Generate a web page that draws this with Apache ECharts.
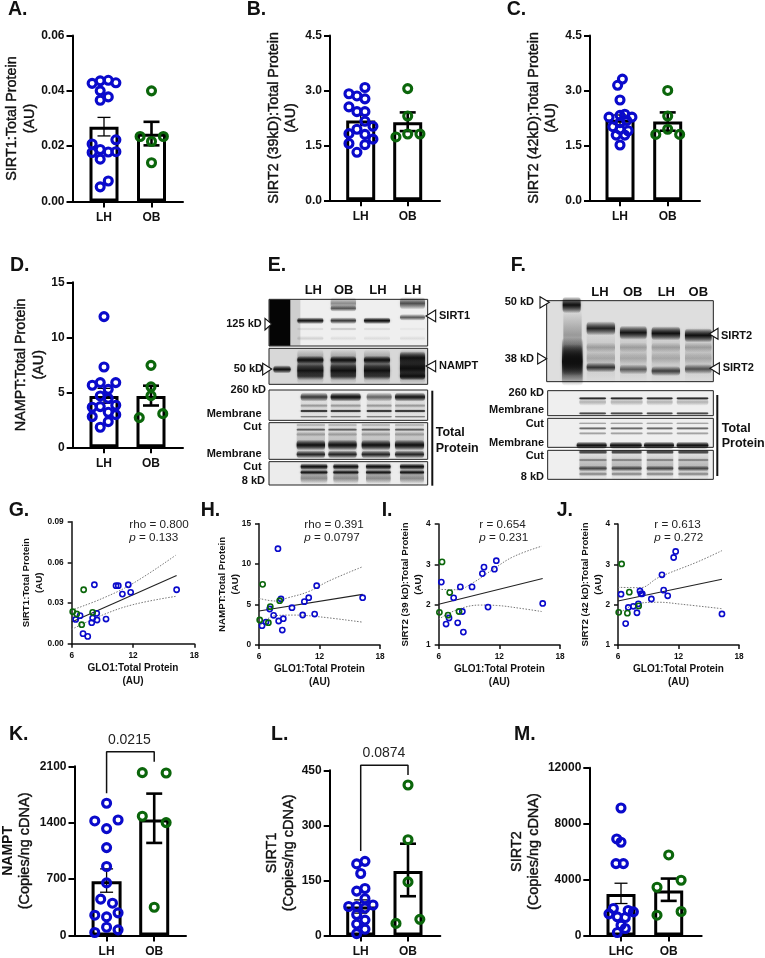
<!DOCTYPE html>
<html><head><meta charset="utf-8">
<style>html,body{margin:0;padding:0;background:#fff}#c{width:765px;height:958px}</style>
<script src="https://cdn.jsdelivr.net/npm/echarts@6/dist/echarts.min.js"></script></head>
<body><div id="c"></div>
<script>
// ---------- Panel A
const aLH=[.0427,.0436,.0438,.0429,.0400,.0378,.0366,.0223,.0208,.0188,.0177,.0179,.0180,.0153,.0074,.0053];
const aLHx=[.75,.92,1.09,1.25,.92,1.09,.92,1.25,.75,.92,.75,1.09,1.25,.92,1.09,.92];
const aOB=[.0235,.0400,.0235,.0217,.0140];
const aOBx=[1.76,2,2.25,2,2];
// ---------- Panel B
const bLH=[3.08,2.91,2.85,2.77,2.55,2.42,2.42,2.16,2.02,1.94,1.82,1.80,1.67,1.55,1.52,1.31];
const bLHx=[1.09,.75,.92,1.09,.75,.92,1.09,1.09,1.26,.92,.75,1.09,1.26,.75,1.09,.92];
const bOB=[3.05,2.30,1.73,1.81,1.81];
const bOBx=[2,2,1.75,2,2.26];
// ---------- Panel C
const cLH=[3.31,3.14,2.74,2.35,2.32,2.27,2.27,2.18,2.12,2.01,1.94,1.90,1.78,1.78,1.51];
const cLHx=[1.05,.95,1,1.1,1,.77,1.25,1.14,1,.85,1,1.17,.92,1.1,1];
const cOB=[3.0,2.30,1.8,1.94,1.8];
const cOBx=[2,2,1.75,2,2.25];
// ---------- Panel D
const dLH=[11.88,7.3,5.64,5.88,5.88,5.27,4.67,4.45,3.64,3.70,3.82,3.18,2.79,2.97,2.33,1.82];
const dLHx=[1,1,.75,.92,1.25,1.09,.92,1.09,.75,.92,1.25,1.09,.75,1.25,1.09,.92];
const dOB=[7.45,5.5,4.7,2.7,3.06];
const dOBx=[2,2,2,1.75,2.25];
// ---------- Panel K
const kLH=[1641,1422,1434,1327,1091,856,653,451,401,252,281,231,103,70,37];
const kLHx=[1,.752,1.241,1,1,1,1,.876,1.124,.752,1.241,1,1,1.241,.752];
const kOB=[2021,2017,1480,1401,351];
const kOBx=[1.75,2.25,1.75,2.25,2];
// ---------- Panel L
const lLH=[202,195,169,128,121,100,79,79,75,83,57,42,31,17,5];
const lLHx=[1.09,.915,1,1.09,.915,1.09,.746,.915,1.09,1.26,.915,1.09,.915,1.09,.915];
const lOB=[410,261,146,33,44];
const lOBx=[2,2,2,1.746,2.25];
// ---------- Panel M
const mLH=[9119,6905,6667,5143,5143,1929,1690,1548,1786,1333,1286,738,500,214];
const mLHx=[1,.91,1,.895,1.05,.84,1.26,.748,1.15,.923,1.09,1,1.09,.923];
const mOB=[5762,3952,3452,1452,1714];
const mOBx=[2,2.26,1.755,1.755,2.26];
// ---------- Bars: means and SEM limits [LH, OB]
const aMean=[.027,.0245], aLow=[.0237,.0203], aHigh=[.0304,.0288];
const bMean=[2.18,2.13], bLow=[2.04,1.89], bHigh=[2.32,2.40];
const cMean=[2.2,2.15], cLow=[2.07,1.9], cHigh=[2.33,2.40];
const dMean=[4.67,4.67], dLow=[4.0,3.8], dHigh=[5.36,5.6];
const kMean=[674,1439], kLow=[537,1149], kHigh=[827,1761];
const lMean=[79,176], lLow=[61,107], lHigh=[97,250];
const mMean=[2976,3214], mLow=[2286,2476], mHigh=[3738,4071];
const groupsAB=['LH','OB'], groupsM=['LHC','OB'];
// ---------- Correlations G-J  (GLO1 on x)
const gBlueX=[8.22,10.34,10.56,11.54,10.96,11.77,16.27,6.39,6.82,8.05,7.96,8.45,8.48,9.36,7.11,7.57];
const gBlueY=[.0435,.0428,.0428,.0435,.0366,.0379,.0398,.0179,.0207,.0189,.0155,.0224,.0175,.0182,.0074,.0054];
const gGreenX=[7.17,6.1,6.49,8.05,6.98];
const gGreenY=[.0398,.0236,.0219,.0231,.0140];
const gFitX=[6,16.27], gFitY=[.016,.0504];
const gCIx=[6,9,12,16.17], gUp=[.0248,.0334,.0445,.0652], gLo=[.0106,.0211,.0288,.0349];
const hBlueX=[7.88,11.72,10.93,10.5,16.28,8.18,9.27,7.06,7.45,10.33,11.52,8.41,7.95,6.69,6.3,8.31];
const hBlueY=[11.91,7.33,5.85,5.36,5.85,5.69,4.61,4.45,3.67,3.71,3.83,3.25,2.97,2.84,2.39,1.85];
const hGreenX=[6.36,7.12,8.05,6.07,6.93];
const hGreenY=[7.5,4.74,5.48,3.09,2.76];
const hFitX=[6,16.28], hFitY=[4.2,6.26];
const hUpX=[6,7.6,8.9,10.9,12.9,16.28], hUp=[5.77,5.44,5.85,6.6,7.9,9.68];
const hLoX=[6,7.6,9.5,11.88,16.18], hLo=[2.27,3.63,3.7,3.5,2.84];
const iBlueX=[11.7,10.48,11.51,10.32,6.26,8.14,9.3,7.48,16.29,10.88,8.34,7.02,6.73,7.88,8.44];
const iBlueY=[3.09,2.93,2.88,2.77,2.56,2.44,2.44,2.17,2.03,1.94,1.83,1.67,1.52,1.55,1.32];
const iGreenX=[6.33,7.09,6.07,6.92,8.01];
const iGreenY=[3.06,2.30,1.81,1.74,1.83];
const iFitX=[6,16.29], iFitY=[2.01,2.65];
const iCIx=[6,7.78,9.43,11.4,13.39,16.19], iUp=[2.38,2.37,2.55,2.88,3.19,3.45];
const iLoX=[6,7.78,10.09,11.74,14.05,16.19], iLo=[1.64,1.87,1.99,1.98,1.91,1.83];
const jBlueX=[11.72,11.52,10.36,8.18,10.53,8.41,8.28,6.3,10.93,9.31,8.02,7.52,7.02,7.88,16.31,6.76];
const jBlueY=[3.32,3.17,2.74,2.34,2.36,2.27,2.27,2.26,2.22,2.14,2.02,1.96,1.93,1.80,1.77,1.53];
const jGreenX=[6.36,7.12,8.05,6.07,6.93];
const jGreenY=[3.01,2.31,1.97,1.81,1.79];
const jFitX=[6,16.31], jFitY=[2.09,2.63];
const jCIx=[6,8.18,10,13.97,16.31], jUp=[2.43,2.42,2.67,3.07,3.34];
const jLoX=[6,8.02,10,12.31,16.31], jLo=[1.76,2.03,2.06,2.01,1.9];

const FONT='Liberation Sans', BLUE='#0a0acb', GREEN='#0b660b', BLACK='#000';
const zip=(x,y)=>y.map((v,i)=>[x[i],v]);
const grid=[],xAxis=[],yAxis=[],series=[],graphic=[];

function addBarPanel(p){
  const i=grid.length;
  grid.push({left:p.x0,top:p.yTop,width:p.x1-p.x0,height:p.yBot-p.yTop,containLabel:false});
  const unit=p.xOB-p.xLH;
  const labels=p.groups;
  xAxis.push({gridIndex:i,type:'value',min:1-(p.xLH-p.x0)/unit,max:2+(p.x1-p.xOB)/unit,
    axisLine:{onZero:false,lineStyle:{color:BLACK,width:2}},splitLine:{show:false},
    axisTick:{show:true,customValues:[1,2],length:6,lineStyle:{color:BLACK,width:2}},
    axisLabel:{show:true,customValues:[1,2],margin:10.5,fontFamily:FONT,fontWeight:'bold',fontSize:12,color:'#111',
      formatter:v=>labels[Math.round(v)-1]}});
  yAxis.push({gridIndex:i,type:'value',min:0,max:p.max,interval:p.interval,
    axisLine:{show:true,onZero:false,lineStyle:{color:BLACK,width:2}},splitLine:{show:false},
    axisTick:{show:true,length:6,lineStyle:{color:BLACK,width:2}},
    axisLabel:{margin:8,fontFamily:FONT,fontWeight:'bold',fontSize:12,color:'#111',showMinLabel:true,showMaxLabel:true,
      formatter:v=>v.toFixed(p.dec)},
    name:p.name,nameLocation:'middle',nameGap:p.gap,nameRotate:90,nameMoveOverlap:false,
    nameTextStyle:{rich:p.rich||{a:{fontFamily:FONT,fontSize:14.4,lineHeight:17.5,color:'#111',textBorderColor:'#111',textBorderWidth:.4}}}});
  series.push({type:'bar',xAxisIndex:i,yAxisIndex:i,barWidth:p.barW||29,z:2,silent:true,
    data:p.mean.map((v,k)=>[k+1,v]),itemStyle:{color:'#fff',borderColor:BLACK,borderWidth:3}});
  series.push({type:'custom',xAxisIndex:i,yAxisIndex:i,z:3,silent:true,
    data:p.mean.map((v,k)=>[k+1,p.low[k],p.high[k]]),encode:{x:0,y:[1,2]},
    renderItem:(params,api)=>{
      const x=api.value(0),lo=api.coord([x,api.value(1)]),hi=api.coord([x,api.value(2)]);
      const w=x===1?1.3:2.6, cap=x===1?6.5:8;
      const ln=(a,b,c,d)=>({type:'line',shape:{x1:a,y1:b,x2:c,y2:d},style:{stroke:BLACK,lineWidth:w}});
      return {type:'group',children:[ln(lo[0],lo[1],hi[0],hi[1]),ln(lo[0]-cap,lo[1],lo[0]+cap,lo[1]),ln(hi[0]-cap,hi[1],hi[0]+cap,hi[1])]};
    }});
  const sc=(d,c)=>({type:'scatter',xAxisIndex:i,yAxisIndex:i,z:4,silent:true,symbolSize:8,clip:false,data:d,
    itemStyle:{color:'rgba(0,0,0,0)',borderColor:c,borderWidth:3.1,opacity:1}});
  series.push(sc(zip(p.lhx,p.lh),BLUE),sc(zip(p.obx,p.ob),GREEN));
  if(p.bracket){
    series.push({type:'line',xAxisIndex:i,yAxisIndex:i,z:5,silent:true,clip:false,showSymbol:false,
      data:[[1,p.bracket[0]],[1,p.bracket[1]],[2,p.bracket[1]],[2,p.bracket[2]]],
      lineStyle:{color:'#111',width:1.5}});
    graphic.push(txt(p.bracket[3],p.bracket[4],p.bracket[5],{fontSize:14,fontWeight:'normal',align:'center',fill:'#222'}));
  }
}
function addCorr(p){
  const i=grid.length;
  grid.push({left:p.x0,top:p.yTop,width:p.x1-p.x0,height:p.yBot-p.yTop});
  const axisCommon={axisLine:{show:true,onZero:false,lineStyle:{color:'#111',width:1.5}},splitLine:{show:false},
    axisTick:{show:true,length:4,lineStyle:{color:'#111',width:1.5}}};
  const lab={fontFamily:FONT,fontWeight:'bold',fontSize:8.3,color:'#111',margin:8,showMinLabel:true,showMaxLabel:true};
  xAxis.push(Object.assign({gridIndex:i,type:'value',min:6,max:18,interval:6,axisLabel:lab,
    name:'GLO1:Total Protein\n(AU)',nameLocation:'middle',nameGap:18,nameMoveOverlap:false,
    nameTextStyle:{fontFamily:FONT,fontWeight:'bold',fontSize:10,lineHeight:13,color:'#111'}},axisCommon));
  yAxis.push(Object.assign({gridIndex:i,type:'value',min:p.min,max:p.max,interval:p.interval,
    axisLabel:Object.assign({},lab,{formatter:v=>v.toFixed(p.dec)}),
    name:p.name,nameLocation:'middle',nameGap:p.gap,nameRotate:90,nameMoveOverlap:false,
    nameTextStyle:{fontFamily:FONT,fontWeight:'bold',fontSize:9.7,lineHeight:13,color:'#111'}},axisCommon));
  const ln=(d,o)=>Object.assign({type:'line',xAxisIndex:i,yAxisIndex:i,z:3,silent:true,showSymbol:false,data:d},o);
  const dotted={smooth:.4,lineStyle:{color:'#777',width:1,type:[1.5,1.5]}};
  series.push(ln(p.up,dotted),ln(p.lo,dotted),ln(p.fit,{lineStyle:{color:'#222',width:1.1}}));
  const sc=(d,c)=>({type:'scatter',xAxisIndex:i,yAxisIndex:i,z:4,silent:true,symbolSize:5.2,clip:false,data:d,
    itemStyle:{color:'rgba(0,0,0,0)',borderColor:c,borderWidth:1.6,opacity:1}});
  series.push(sc(p.blue,BLUE),sc(p.green,GREEN));
  graphic.push(txt(p.tx,524.3,p.stat,{fontSize:11.7,fontWeight:'normal',fill:'#222'}));
  graphic.push({type:'text',x:p.tx,y:538,silent:true,style:{text:'{i|p} = '+p.p,fontFamily:FONT,fontSize:11.7,fill:'#222',verticalAlign:'middle',
    rich:{i:{fontStyle:'italic',fontFamily:FONT,fontSize:11.7,fill:'#222'}}}});
}
function txt(x,y,s,o){
  return {type:'text',x,y,silent:true,style:Object.assign({text:s,fontFamily:FONT,fontWeight:'bold',fontSize:11,fill:'#111',align:'left',verticalAlign:'middle'},o||{})};
}
const au=s=>`{a|${s}}\n{a|(AU)}`;
const richK={b:{fontFamily:FONT,fontWeight:'bold',fontSize:14,lineHeight:17,color:'#111'},r:{fontFamily:FONT,fontSize:14.5,lineHeight:17,color:'#111',textBorderColor:'#111',textBorderWidth:.4}};
const copies=s=>`{b|${s}}\n{r|(Copies/ng cDNA)}`;
const copiesReg=s=>`{r|${s}}\n{r|(Copies/ng cDNA)}`;

addBarPanel({x0:72.5,x1:183,xLH:104,xOB:151.5,yTop:35.5,yBot:201.5,max:.06,interval:.02,dec:2,gap:34,name:au('SIRT1:Total Protein'),groups:groupsAB,lh:aLH,lhx:aLHx,ob:aOB,obx:aOBx,mean:aMean,low:aLow,high:aHigh});
addBarPanel({x0:330,x1:440,xLH:360.7,xOB:407.7,yTop:35.5,yBot:200.3,max:4.5,interval:1.5,dec:1,gap:30,name:au('SIRT2 (39kD):Total Protein'),groups:groupsAB,lh:bLH,lhx:bLHx,ob:bOB,obx:bOBx,mean:bMean,low:bLow,high:bHigh});
addBarPanel({x0:590,x1:700,xLH:620,xOB:667.7,yTop:35.5,yBot:200.3,max:4.5,interval:1.5,dec:1,gap:30,name:au('SIRT2 (42kD):Total Protein'),groups:groupsAB,lh:cLH,lhx:cLHx,ob:cOB,obx:cOBx,mean:cMean,low:cLow,high:cHigh});
addBarPanel({x0:72.7,x1:183,xLH:104,xOB:151,yTop:282.3,yBot:447.3,max:15,interval:5,dec:0,gap:25,name:au('NAMPT:Total Protein'),groups:groupsAB,lh:dLH,lhx:dLHx,ob:dOB,obx:dOBx,mean:dMean,low:dLow,high:dHigh});
addBarPanel({x0:72.7,x1:186,xLH:105.3,xOB:153.7,yTop:766.3,yBot:935.7,max:2100,interval:700,dec:0,gap:41,barW:30,name:copies('NAMPT'),rich:richK,groups:groupsAB,lh:kLH,lhx:kLHx,ob:kOB,obx:kOBx,mean:kMean,low:kLow,high:kHigh,bracket:[1765,2282,2158,129.3,739.7,'0.0215']});
addBarPanel({x0:329.7,x1:440.3,xLH:360.7,xOB:408,yTop:770.3,yBot:935.7,max:450,interval:150,dec:0,gap:32,name:copiesReg('SIRT1'),rich:richK,groups:groupsAB,lh:lLH,lhx:lLHx,ob:lOB,obx:lOBx,mean:lMean,low:lLow,high:lHigh,bracket:[230,464,437,384,753.3,'0.0874']});
addBarPanel({x0:589.3,x1:701.7,xLH:621,xOB:668.7,yTop:767.7,yBot:935.7,max:12000,interval:4000,dec:0,gap:47,name:copiesReg('SIRT2'),rich:richK,groups:groupsM,lh:mLH,lhx:mLHx,ob:mOB,obx:mOBx,mean:mMean,low:mLow,high:mHigh});

addCorr({x0:71.7,x1:194.3,yTop:521.7,yBot:643.7,min:0,max:.09,interval:.03,dec:2,gap:25.5,name:'SIRT1:Total Protein\n(AU)',blue:zip(gBlueX,gBlueY),green:zip(gGreenX,gGreenY),fit:zip(gFitX,gFitY),up:zip(gCIx,gUp),lo:zip(gCIx,gLo),tx:129.3,stat:'rho = 0.800',p:'0.133'});
addCorr({x0:259,x1:380,yTop:523.7,yBot:645,min:0,max:15,interval:5,dec:0,gap:17,name:'NAMPT:Total Protein\n(AU)',blue:zip(hBlueX,hBlueY),green:zip(hGreenX,hGreenY),fit:zip(hFitX,hFitY),up:zip(hUpX,hUp),lo:zip(hLoX,hLo),tx:304.3,stat:'rho = 0.391',p:'0.0797'});
addCorr({x0:438.7,x1:560,yTop:524,yBot:645,min:1,max:4,interval:1,dec:0,gap:14,name:'SIRT2 (39 kD):Total Protein\n(AU)',blue:zip(iBlueX,iBlueY),green:zip(iGreenX,iGreenY),fit:zip(iFitX,iFitY),up:zip(iCIx,iUp),lo:zip(iLoX,iLo),tx:479.3,stat:'r = 0.654',p:'0.231'});
addCorr({x0:618,x1:739,yTop:524,yBot:645,min:1,max:4,interval:1,dec:0,gap:13,name:'SIRT2 (42 kD):Total Protein\n(AU)',blue:zip(jBlueX,jBlueY),green:zip(jGreenX,jGreenY),fit:zip(jFitX,jFitY),up:zip(jCIx,jUp),lo:zip(jLoX,jLo),tx:654.3,stat:'r = 0.613',p:'0.272'});

// ---------- Panel letters
[['A.',8,10],['B.',246.7,10],['C.',506.7,10],['D.',10,265.7],['E.',267.7,265.7],['F.',510.7,265.7],
 ['G.',8.7,510.7],['H.',200.7,510.7],['I.',381.7,510.7],['J.',556.7,510.7],['K.',9,734.3],['L.',271,734.3],['M.',514,734.3]]
 .forEach(([s,x,y])=>graphic.push(txt(x,y,s,{fontSize:19.5,fill:'#111'})));

// ---------- Western blots (illustration, not data)
function box(ox,oy,x1,y1,x2,y2,fill){return {type:'rect',silent:true,shape:{x:ox+x1/3,y:oy+y1/3,width:(x2-x1)/3,height:(y2-y1)/3},style:{fill:fill||'#f0f0f0',stroke:'#222',lineWidth:1}};}
function band(ox,oy,x1,x2,yc,h,a){
  const c=v=>`rgba(15,15,15,${v})`;
  const H=h*1.25;
  return {type:'rect',silent:true,shape:{x:ox+x1/3,y:oy+(yc-H)/3,width:(x2-x1)/3,height:2*H/3,r:4},
    style:{shadowBlur:2.5,shadowColor:c(a*.45),
      fill:{type:'linear',x:0,y:0,x2:0,y2:1,colorStops:[{offset:0,color:c(0)},{offset:.22,color:c(a*.45)},{offset:.5,color:c(a)},{offset:.78,color:c(a*.45)},{offset:1,color:c(0)}]}}};
}
function tri(ox,oy,pts){return {type:'polygon',silent:true,shape:{points:pts.map(p=>[ox+p[0]/3,oy+p[1]/3])},style:{fill:'#fff',stroke:'#111',lineWidth:1.1}};}
function bandSet(ox,oy,lanes,rows){const out=[];rows.forEach(r=>lanes.forEach((l,i)=>{const a=Array.isArray(r[2])?r[2][i]:r[2];if(a>0)out.push(band(ox,oy,l[0],l[1],r[3]&&r[3][i]||r[0],r[1],a));}));return out;}
const EX=240,EY=260,FX=500,FY=260;
// E
graphic.push(box(EX,EY,87,118,563,258,'#efefef'),
 {type:'rect',silent:true,shape:{x:EX+88/3,y:EY+119/3,width:63/3,height:138/3},style:{fill:'#050505'}},
 {type:'rect',silent:true,shape:{x:EX+151/3,y:EY+119/3,width:30/3,height:138/3},style:{fill:'rgba(60,60,60,.18)'}},
 box(EX,EY,87,265,563,373,'#d8d8d8'),box(EX,EY,87,390,563,481,'#ececec'),box(EX,EY,87,488,563,598,'#ececec'),box(EX,EY,87,605,563,675,'#ececec'));
const eL=[[172,250],[272,348],[372,450],[480,555]];
graphic.push(...bandSet(EX,EY,eL,[[130,15,[0,.4,0,.65]],[145,8,[0,.6,0,0]],[182,8,[.95,.75,1,0]],[172,8,[0,0,0,.6]],[207,4,[.1,.2,.1,.05]],[235,6,[.12,.08,.08,.08]]]));
graphic.push(band(EX,EY,100,152,328,10,1));
graphic.push(...bandSet(EX,EY,eL,[[320,42,[.5,.5,.5,.6]],[300,10,[1,1,1,0]],[294,16,[0,0,0,1]],[332,18,[.95,1,1,0]],[325,28,[0,0,0,1]],[348,10,[.6,.6,.6,1]]]));
const eT=[[182,262],[272,362],[380,455],[465,555]];
graphic.push(...bandSet(EX,EY,eT,[[440,36,.1],[411,11,[.75,1,.55,.95]],[437,5,.3],[453,4,1],[470,3,.5]]));
const eT2=[[170,255],[265,350],[365,450],[465,552]];
graphic.push(...bandSet(EX,EY,eT2,[[540,50,.18],[495,4,.25],[509,4,.6],[523,6,.25],[555,13,1],[583,10,.85]]));
const eT3=[[182,262],[280,355],[378,452],[480,552]];
graphic.push(...bandSet(EX,EY,eT3,[[640,30,.25],[620,8,1],[637,6,.95],[655,12,.3]]));
graphic.push(tri(EX,EY,[[75,175],[75,210],[95,192]]),tri(EX,EY,[[68,310],[68,345],[95,327]]),tri(EX,EY,[[558,168],[587,150],[587,185]]),tri(EX,EY,[[558,318],[587,302],[587,335]]));
[['LH',220],['OB',311],['LH',414],['LH',518]].forEach(([s,z])=>graphic.push(txt(EX+z/3,EY+90/3,s,{fontSize:13,align:'center'})));
[['125 kD',261.7,324],['50 kD',263,369],['260 kD',266,390],['Membrane',261.7,414],['Cut',261.7,427],['Membrane',261.7,453.7],['Cut',261.7,467],['8 kD',265,481]]
 .forEach(([s,x,y])=>graphic.push(txt(x,y,s,{align:'right'})));
graphic.push(txt(439,316,'SIRT1'),txt(439,366,'NAMPT'),txt(435.7,433,'Total',{fontSize:12.5}),txt(435.7,448.7,'Protein',{fontSize:12.5}));
graphic.push({type:'line',silent:true,shape:{x1:432.3,y1:390.7,x2:432.3,y2:485.7},style:{stroke:'#111',lineWidth:2}});
// F
graphic.push(box(FX,FY,140,122,640,365,'#dedede'),box(FX,FY,143,392,640,467,'#efefef'),box(FX,FY,143,475,640,562,'#efefef'),box(FX,FY,143,571,640,658,'#efefef'));
graphic.push(band(FX,FY,188,242,135,20,1),band(FX,FY,190,245,225,60,.3),band(FX,FY,186,248,305,58,1),band(FX,FY,190,245,300,38,1));
const fL=[[260,345],[360,440],[455,540],[555,635]];
graphic.push(...bandSet(FX,FY,fL,[[285,70,.14],[262,12,.22],[295,14,.15],[0,17,[.85,.95,1,1],[205,218,220,226]],[0,12,[.75,.55,.7,.6],[322,328,333,327]]]));
const fT=[[238,318],[332,428],[440,518],[530,625]];
graphic.push(...bandSet(FX,FY,fT,[[415,4,.9],[426,9,.25],[460,4,.75],[490,3,.35],[505,4,.6],[520,4,.35]]));
graphic.push(...bandSet(FX,FY,[[230,320],[330,425],[432,522],[530,625]],[[556,9,1]]));
graphic.push(...bandSet(FX,FY,[[238,320],[335,425],[440,520],[535,625]],[[615,38,.22],[576,6,.8],[600,4,.45],[625,7,.65],[642,5,.4]]));
graphic.push(tri(FX,FY,[[120,110],[120,144],[148,127]]),tri(FX,FY,[[113,280],[113,312],[140,296]]),tri(FX,FY,[[628,222],[654,205],[654,238]]),tri(FX,FY,[[630,325],[658,308],[658,343]]));
[['LH',300],['OB',398],['LH',499],['OB',595]].forEach(([s,z])=>graphic.push(txt(FX+z/3,FY+97/3,s,{fontSize:13,align:'center'})));
[['50 kD',534,301.7],['38 kD',534,359],['260 kD',544,393],['Membrane',544,410],['Cut',544,424],['Membrane',544,442.7],['Cut',544,456],['8 kD',544,476.7]]
 .forEach(([s,x,y])=>graphic.push(txt(x,y,s,{align:'right'})));
graphic.push(txt(721,336,'SIRT2'),txt(722.7,368,'SIRT2'),txt(721.7,428.3,'Total',{fontSize:12.5}),txt(721.7,444,'Protein',{fontSize:12.5}));
graphic.push({type:'line',silent:true,shape:{x1:717.3,y1:395,x2:717.3,y2:476},style:{stroke:'#111',lineWidth:2}});

const chart=echarts.init(document.getElementById('c'),null,{renderer:'canvas',width:765,height:958});
chart.setOption({animation:false,backgroundColor:'#fff',grid,xAxis,yAxis,series,graphic});
</script></body></html>
